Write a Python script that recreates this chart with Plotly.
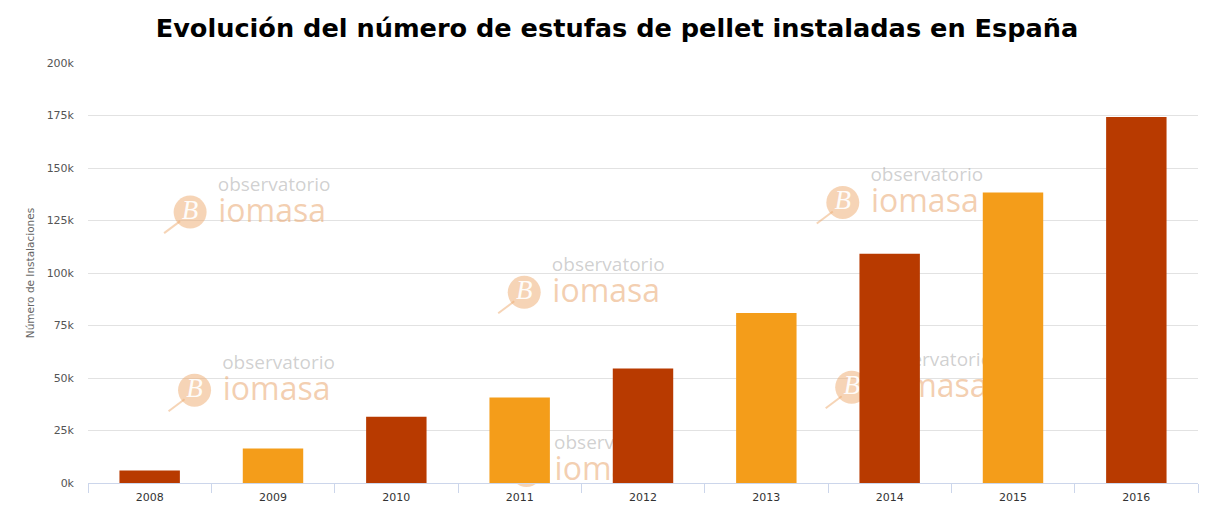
import plotly.graph_objects as go

# ---------------- data ----------------
years = ["2008", "2009", "2010", "2011", "2012", "2013", "2014", "2015", "2016"]
installations = [6000, 16400, 31600, 40700, 54500, 81000, 109200, 138300, 174300]
bar_colors = ["#B83A00", "#F49D1A", "#B83A00", "#F49D1A", "#B83A00",
              "#F49D1A", "#B83A00", "#F49D1A", "#B83A00"]
y_tickvals = [0, 25000, 50000, 75000, 100000, 125000, 150000, 175000, 200000]
y_ticktext = ["0k", "25k", "50k", "75k", "100k", "125k", "150k", "175k", "200k"]

title_text = "Evolución del número de estufas de pellet instaladas en España"
y_title = "Número de Instalaciones"

# watermark logo centres, as fractions of the plot area
wm_x = [0.092, 0.393, 0.096, 0.680, 0.688, 0.395]
wm_y = [0.645, 0.454, 0.221, 0.668, 0.228, 0.030]

# ---------------- layout constants ----------------
# the page body has an 8px margin, so the figure is drawn 8px smaller and offset
PAGE_OFF = 8
W, H = 1225 - PAGE_OFF, 517 - PAGE_OFF
ML, MR, MT, MB = 88 - PAGE_OFF, 27, 63 - PAGE_OFF, 34
PW, PH = W - ML - MR, H - MT - MB


def fx(px):
    return px / PW


def fy(py):
    return py / PH


fig = go.Figure()

# ---- watermark (on the base subplot, drawn beneath the bars) ----
peach = "rgba(238,170,110,0.5)"
stem_x, stem_y = [], []
for cx, cy in zip(wm_x, wm_y):
    stem_x += [cx - fx(10), cx - fx(26), None]
    stem_y += [cy - fy(9), cy - fy(21), None]
fig.add_trace(go.Scatter(x=stem_x, y=stem_y, mode="lines",
                         line=dict(color=peach, width=2),
                         hoverinfo="skip", showlegend=False, cliponaxis=False))
fig.add_trace(go.Scatter(x=wm_x, y=wm_y, mode="markers+text",
                         marker=dict(size=33, color=peach, line=dict(width=0)),
                         text=["<i>B</i>"] * len(wm_x), textposition="middle center",
                         textfont=dict(family="Liberation Serif", size=27, color="rgba(255,255,255,0.95)"),
                         hoverinfo="skip", showlegend=False, cliponaxis=False))
fig.add_trace(go.Scatter(x=[x + fx(84) for x in wm_x], y=[y + fy(26) for y in wm_y],
                         mode="text", text=["observatorio"] * len(wm_x),
                         textposition="middle center",
                         textfont=dict(family="Open Sans", size=19, color="rgba(150,150,150,0.45)"),
                         hoverinfo="skip", showlegend=False, cliponaxis=False))
fig.add_trace(go.Scatter(x=[x + fx(82) for x in wm_x], y=[y - fy(2) for y in wm_y],
                         mode="text", text=["iomasa"] * len(wm_x),
                         textposition="middle center",
                         textfont=dict(family="Open Sans", size=32, color="rgba(232,160,100,0.5)"),
                         hoverinfo="skip", showlegend=False, cliponaxis=False))

# ---- bars (overlay subplot, drawn above the watermark) ----
fig.add_trace(go.Bar(x=years, y=installations, marker=dict(color=bar_colors, line=dict(width=0)),
                     xaxis="x2", yaxis="y2", showlegend=False))

fig.update_layout(
    width=W, height=H,
    margin=dict(l=ML, r=MR, t=MT, b=MB, autoexpand=False),
    paper_bgcolor="white", plot_bgcolor="white",
    bargap=0.51,
    title=dict(text="<b>" + title_text + "</b>", x=(617 - PAGE_OFF) / W, xanchor="center",
               y=1 - (28 - PAGE_OFF) / H, yanchor="middle", yref="container",
               font=dict(family="DejaVu Sans", size=25.6, color="black")),
    xaxis=dict(visible=False, range=[0, 1], fixedrange=True, automargin=False),
    yaxis=dict(visible=False, range=[0, 1], fixedrange=True, automargin=False),
    xaxis2=dict(overlaying="x", anchor="y2", type="category", automargin=False,
                showgrid=False, showline=True, linecolor="#ccd6eb", linewidth=1,
                ticks="outside", tickson="boundaries", ticklen=9, tickcolor="#ccd6eb",
                ticklabelstandoff=4,
                tickfont=dict(family="DejaVu Sans", size=11, color="#333333")),
    yaxis2=dict(overlaying="y", anchor="x2", range=[0, 200000], automargin=False,
                tickvals=y_tickvals, ticktext=y_ticktext,
                showgrid=True, gridcolor="#e2e2e2", gridwidth=1,
                zeroline=False, showline=False, ticks="", ticklabelstandoff=13,
                tickfont=dict(family="DejaVu Sans", size=11, color="#555555"),
                title=dict(text=y_title, standoff=9,
                           font=dict(family="DejaVu Sans", size=10.5, color="#666666"))),
)

fig.write_html("out.html")
